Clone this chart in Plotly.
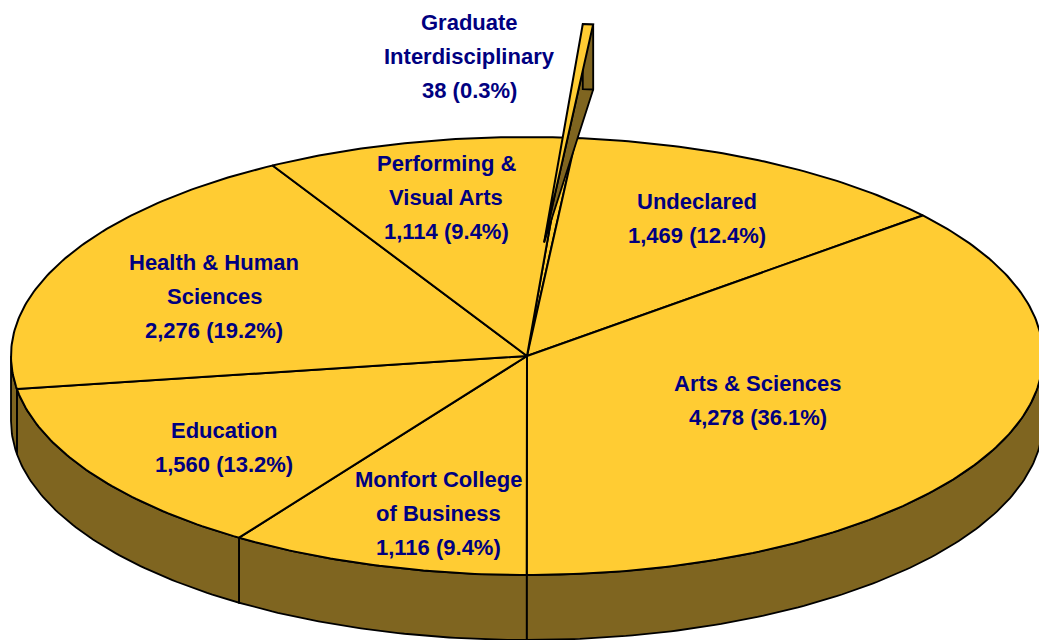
import numpy as np
import plotly.graph_objects as go

# ---------------- data ----------------
categories = [
    "Graduate Interdisciplinary",
    "Undeclared",
    "Arts & Sciences",
    "Monfort College of Business",
    "Education",
    "Health & Human Sciences",
    "Performing & Visual Arts",
]
enrollment = [38, 1469, 4278, 1116, 1560, 2276, 1114]
label_lines = [
    ["Graduate", "Interdisciplinary"],
    ["Undeclared"],
    ["Arts & Sciences"],
    ["Monfort College", "of Business"],
    ["Education"],
    ["Health & Human", "Sciences"],
    ["Performing &", "Visual Arts"],
]

# ---------------- layout / style ----------------
W, H = 1039, 640
CX, CY = 527, 356          # pie centre (pixel space)
RX, RY = 516, 219          # ellipse radii of top face
DEPTH = 65                 # thickness of the 3-D pie
START_DEG = 4.3            # angle (clockwise from top) of first slice
EXPLODE = {0: 0.52}        # pulled-out slice(s), fraction of radius
TOP_COLOR = "#FFCC33"
SIDE_COLOR = "#7F6520"
TEXT_COLOR = "#000080"
FONT = "Liberation Sans, Arial, sans-serif"
FONT_SIZE = 22
LINE_GAP = 34
label_pos = [(469, 56), (697, 218), (758, 400), (438, 513),
             (224, 447), (214, 296), (446, 197)]

total = float(sum(enrollment))
fracs = [v / total for v in enrollment]
starts, ends = [], []
acc = START_DEG
for f in fracs:
    starts.append(acc)
    acc += f * 360.0
    ends.append(acc)


def arc(a0, a1, ox=0.0, oy=0.0, scale=1.0, dy=0.0, n=120):
    t = np.radians(np.linspace(a0, a1, max(3, int(n * (a1 - a0) / 90) + 3)))
    x = CX + ox + RX * scale * np.sin(t)
    y = CY + oy - RY * scale * np.cos(t) + dy
    return x, y


fig = go.Figure()


def poly(x, y, fill, width=2.0):
    fig.add_trace(go.Scatter(
        x=list(x), y=list(y), mode="lines", fill="toself",
        fillcolor=fill, line=dict(color="black", width=width),
        hoverinfo="skip", showlegend=False))


# side walls of the main pie (front half only)
for i in range(len(enrollment)):
    for shift in (0.0, 360.0):
        a = max(starts[i] - shift, 90.0)
        b = min(ends[i] - shift, 270.0)
        if a < b:
            x1, y1 = arc(a, b)
            x2, y2 = arc(a, b, dy=DEPTH)
            poly(np.concatenate([x1, x2[::-1], x1[:1]]),
                 np.concatenate([y1, y2[::-1], y1[:1]]), SIDE_COLOR, 1.8)

# top faces of the main pie (exploded slices leave a notch drawn in place)
for i in range(len(enrollment)):
    x, y = arc(starts[i], ends[i])
    poly(np.concatenate([[CX], x, [CX]]), np.concatenate([[CY], y, [CY]]),
         TOP_COLOR, 2.0)

# exploded slice(s)
for i, pull in EXPLODE.items():
    mid = np.radians((starts[i] + ends[i]) / 2)
    ox = pull * RX * np.sin(mid) * 0.75
    oy = -pull * RY * np.cos(mid)
    ax, ay = CX + ox, CY + oy
    xa, ya = arc(starts[i], ends[i], ox, oy)
    # right radial cut face (tapering towards the apex)
    poly([ax, xa[-1], xa[-1], ax],
         [ay, ya[-1], ya[-1] + DEPTH, ay], SIDE_COLOR, 1.8)
    # outer rim face
    poly(np.concatenate([xa, xa[::-1], xa[:1]]),
         np.concatenate([ya, ya[::-1] + DEPTH, ya[:1]]), SIDE_COLOR, 1.8)
    # top face
    poly(np.concatenate([[ax], xa, [ax]]), np.concatenate([[ay], ya, [ay]]),
         TOP_COLOR, 2.0)

# labels
for i, lines in enumerate(label_lines):
    pct = enrollment[i] / total * 100
    rows = lines + [f"{enrollment[i]:,} ({pct:.1f}%)"]
    lx, ly = label_pos[i]
    n = len(rows)
    for k, row in enumerate(rows):
        fig.add_annotation(
            x=lx, y=ly + (k - (n - 1) / 2) * LINE_GAP, text=f"<b>{row}</b>",
            showarrow=False, xanchor="center", yanchor="middle",
            font=dict(family=FONT, size=FONT_SIZE, color=TEXT_COLOR))

fig.update_layout(
    width=W, height=H, margin=dict(l=0, r=0, t=0, b=0),
    paper_bgcolor="white", plot_bgcolor="white", showlegend=False,
    hovermode=False,
    xaxis=dict(range=[0, W], visible=False, fixedrange=True),
    yaxis=dict(range=[H, 0], visible=False, fixedrange=True),
)

fig.write_html("out.html",
               config={"displayModeBar": False, "staticPlot": True},
               post_script="document.body.style.margin='0';"
                           "document.body.style.overflow='hidden';")
